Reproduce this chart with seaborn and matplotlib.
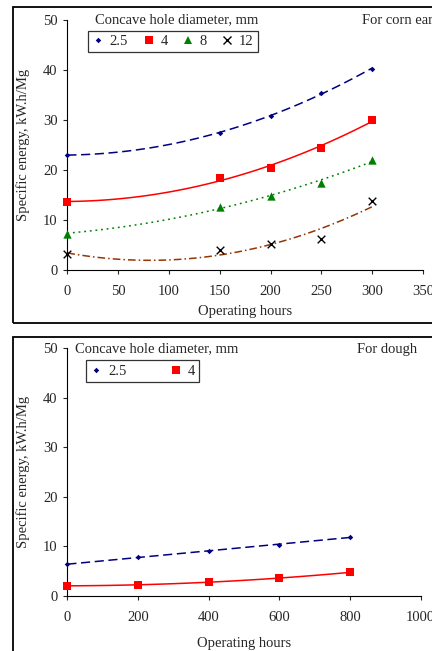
import numpy as np
import pandas as pd
import seaborn as sns
import matplotlib.pyplot as plt
from matplotlib.lines import Line2D
from matplotlib.patches import Rectangle

sns.set_style("ticks")
plt.rcParams['font.family'] = ['Liberation Serif', 'DejaVu Serif']
plt.rcParams['font.size'] = 10.5

# corn ears panel
ear_hours = [0, 150, 200, 250, 300]
ear_d25 = [23.0, 27.5, 30.8, 35.4, 40.3]
ear_d4 = [13.6, 18.5, 20.5, 24.4, 30.1]
ear_d8 = [7.3, 12.6, 14.9, 17.5, 22.0]
ear_d12 = [3.2, 4.0, 5.3, 6.2, 13.8]

# dough panel
dough_hours = [0, 200, 400, 600, 800]
dough_d25 = [6.3, 7.8, 9.1, 10.3, 11.8]
dough_d4 = [2.0, 2.2, 2.7, 3.6, 4.7]

# label: (line colour, dashes, marker, marker colour, marker size)
styles = {
    '2.5': ('#000080', (6, 3), 'D', '#000080', 2.8),
    '4': ('#FF0000', None, 's', '#FF0000', 5.5),
    '8': ('#008000', (1.2, 2.5), '^', '#008000', 6),
    '12': ('#993300', (5, 2, 1, 2), 'x', 'black', 5.5),
}


def draw_series(ax, x, y, key, order):
    lc, dashes, mk, mc, ms = styles[key]
    df = pd.DataFrame({'hours': x, 'energy': y})
    line_kws = dict(color=lc, lw=1.1)
    sns.regplot(data=df, x='hours', y='energy', order=order, ci=None,
                scatter=False, line_kws=line_kws, ax=ax)
    if dashes is not None:
        ax.lines[-1].set_dashes(dashes)
    sns.scatterplot(data=df, x='hours', y='energy', marker=mk, color=mc,
                    s=ms ** 2, linewidth=1.0 if mk == 'x' else 0,
                    ax=ax, zorder=5, clip_on=False)


def legend_handles(keys):
    hs = []
    for k in keys:
        lc, dashes, mk, mc, ms = styles[k]
        hs.append(Line2D([], [], ls='none', marker=mk, color=mc,
                         markersize=ms, markeredgewidth=1.0 if mk == 'x' else 0))
    return hs


def style_axes(ax, xmax, xstep, xpad):
    sns.despine(ax=ax)
    ax.set_xlim(0, xmax)
    ax.set_ylim(0, 50)
    ax.set_xticks(np.arange(0, xmax + 1, xstep))
    ax.set_yticks([0, 10, 20, 30, 40, 50])
    ax.tick_params(axis='x', direction='out', length=3, width=0.8, pad=8, labelsize=10.5)
    ax.tick_params(axis='y', direction='out', length=3, width=0.8, pad=4, labelsize=10.5)
    for s in ('left', 'bottom'):
        ax.spines[s].set_linewidth(0.8)
        ax.spines[s].set_color('black')
    ax.set_ylabel('Specific energy, kW.h/Mg', fontsize=10.5, labelpad=9)
    ax.set_xlabel('Operating hours', fontsize=10.5, labelpad=xpad)


fig = plt.figure(figsize=(4.32, 6.51), dpi=100)
W, H = 432, 651

# panel frames
fig.add_artist(Rectangle((13 / W, 1 - 323 / H), 1.0, (323 - 7) / H,
                         transform=fig.transFigure, fill=False, lw=1.3, ec='black'))
fig.add_artist(Rectangle((13 / W, -0.05), 1.0, 0.05 + 1 - 337 / H,
                         transform=fig.transFigure, fill=False, lw=1.3, ec='black'))

ax1 = fig.add_axes([67.3 / W, 1 - 270 / H, (423 - 67.3) / W, 250 / H])
ax2 = fig.add_axes([67.3 / W, 1 - 595.7 / H, (420.7 - 67.3) / W, 247.7 / H])

draw_series(ax1, ear_hours, ear_d25, '2.5', 2)
draw_series(ax1, ear_hours, ear_d4, '4', 2)
draw_series(ax1, ear_hours, ear_d8, '8', 2)
draw_series(ax1, ear_hours, ear_d12, '12', 2)
style_axes(ax1, 350, 50, 5)

draw_series(ax2, dough_hours, dough_d25, '2.5', 1)
draw_series(ax2, dough_hours, dough_d4, '4', 2)
style_axes(ax2, 1000, 200, 9.5)

for ax, keys, x0, y0, cs in [(ax1, ['2.5', '4', '8', '12'], 0.058, 0.958, 1.0),
                             (ax2, ['2.5', '4'], 0.053, 0.95, 3.0)]:
    leg = ax.legend(legend_handles(keys), keys, ncol=len(keys), loc='upper left',
                    bbox_to_anchor=(x0, y0), frameon=True, fancybox=False,
                    fontsize=10.5, handlelength=0.8, handletextpad=0.4,
                    columnspacing=cs, borderpad=0.3, borderaxespad=0)
    leg.get_frame().set_edgecolor('black')
    leg.get_frame().set_linewidth(0.9)

fig.text(95 / W, 1 - 20 / H, 'Concave hole diameter, mm', fontsize=10.5, va='center')
fig.text(362 / W, 1 - 20 / H, 'For corn ears', fontsize=10.5, va='center')
fig.text(75 / W, 1 - 349 / H, 'Concave hole diameter, mm', fontsize=10.5, va='center')
fig.text(357 / W, 1 - 349 / H, 'For dough', fontsize=10.5, va='center')

fig.savefig('out.png', dpi=100)
